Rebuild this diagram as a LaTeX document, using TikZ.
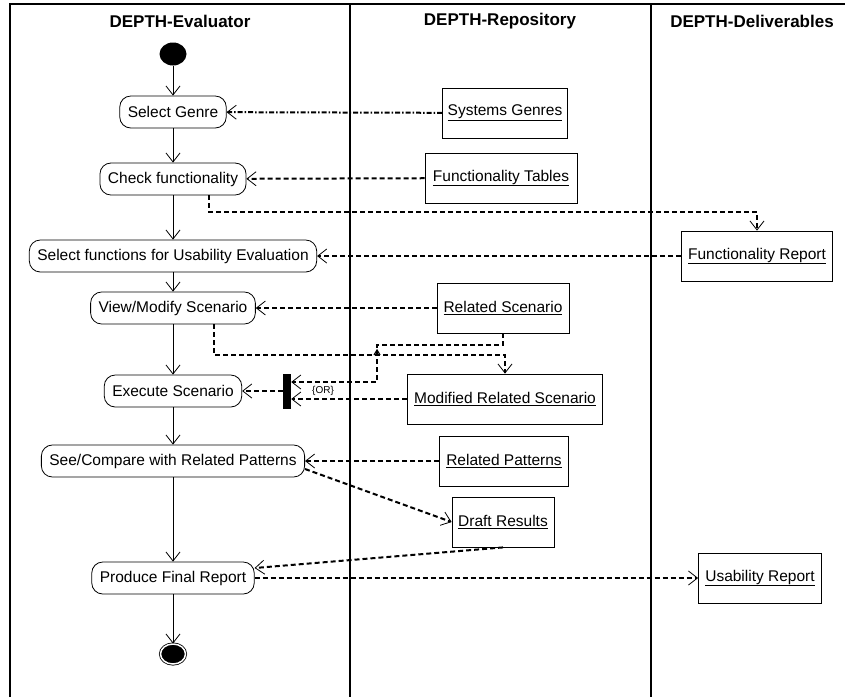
\documentclass[tikz,border=0pt]{standalone}
\usepackage{fontspec}
\setmainfont{Liberation Sans}
\usetikzlibrary{arrows.meta,shapes.geometric}

\begin{document}
\begin{tikzpicture}[x=1pt,y=-1pt]

	\tikzstyle{lane}=[line width=1.1pt]
	\tikzstyle{head}=[font=\fontsize{17}{20}\selectfont\bfseries]
	\tikzstyle{act}=[draw,rounded corners=11pt,minimum height=32pt,inner xsep=8pt,line width=0.8pt,font=\fontsize{15.5}{18}\selectfont]
	\tikzstyle{obj}=[draw,minimum height=50pt,line width=0.8pt,font=\fontsize{15.5}{18}\selectfont]
	\tikzstyle{flow}=[line width=0.8pt,-{Straight Barb[length=9pt,width=14pt,line width=0.8pt]}]
	\tikzstyle{dep}=[flow,line width=2pt,dash pattern=on 5pt off 3pt]

	\useasboundingbox (0,0) rectangle (845,697);

	\draw[lane] (10,697) -- (10,4) -- (845,4);
	\draw[lane] (350,4) -- (350,697);
	\draw[lane] (651,4) -- (651,697);

	\node[head] (hEval) at (180,21) {DEPTH-Evaluator};
	\node[head] (hRepo) at (500,21) {DEPTH-Repository};
	\node[head] (hDeli) at (752,21) {DEPTH-Deliverables};

	\node[ellipse,fill,minimum width=27pt,minimum height=23pt,inner sep=0pt] (start) at (173,54) {};
	\node[act] (genre) at (173,112) {Select Genre};
	\node[act] (check) at (173,179) {Check functionality};
	\node[act] (selfun) at (173,256) {Select functions for Usability Evaluation};
	\node[act] (view) at (173,308) {View/Modify Scenario};
	\node[act] (exec) at (173,391) {Execute Scenario};
	\node[act] (see) at (173,461) {See/Compare with Related Patterns};
	\node[act] (prod) at (173,578) {Produce Final Report};
	\node[ellipse,draw,fill,double=white,double distance=1.5pt,line width=0.8pt,minimum width=25pt,minimum height=20pt,inner sep=0pt] (stop) at (173,654) {};

	\node[obj,minimum width=125pt] (sysgen) at (505,113) {\underline{Systems Genres}};
	\node[obj,minimum width=152pt] (functab) at (501,178) {\underline{Functionality Tables}};
	\node[obj,minimum width=151pt] (funrep) at (757,256) {\underline{Functionality Report}};
	\node[obj,minimum width=132pt] (relscen) at (503,308) {\underline{Related Scenario}};
	\node[obj,minimum width=195pt] (modrel) at (505,399) {\underline{Modified Related Scenario}};
	\node[obj,minimum width=129pt] (relpat) at (504,461) {\underline{Related Patterns}};
	\node[obj,minimum width=102pt] (draft) at (503,522) {\underline{Draft Results}};
	\node[obj,minimum width=123pt] (usarep) at (760,578) {\underline{Usability Report}};

	\node[fill,minimum width=8pt,minimum height=35pt,inner sep=0pt] (bar) at (287,391) {};
	\node[font=\fontsize{10}{12}\selectfont] (orlab) at (323,391) {\{OR\}};

	\foreach \a/\b in {start/genre,genre/check,check/selfun,selfun/view,view/exec,exec/see,see/prod,prod/stop}
		\draw[flow] (\a) -- (\b);

	\draw[dep,dash pattern=on 5pt off 2pt on 1.5pt off 2pt] (sysgen) -- (genre);
	\draw[dep] (functab) -- (check);
	\draw[dep] ([xshift=36pt]check.south) -- ++(0,17) -| (funrep);
	\draw[dep] (funrep) -- (selfun);
	\draw[dep] (relscen) -- (view);
	\draw[dep] ([xshift=41pt]view.south) -- ++(0,31) -| (modrel);
	\draw[dep] (relscen.south) -- ++(0,12) -- ++(-126,0) |- ([yshift=9pt]bar.east);
	\draw[dep] (modrel.west) -- (modrel.west -| bar.east);
	\draw[dep] (bar) -- (exec);
	\draw[dep] (relpat) -- (see);
	\draw[dep] ([yshift=-8pt]see.east) -- (draft.west);
	\draw[dep] (draft.south) -- ([yshift=10pt]prod.east);
	\draw[dep] (prod) -- (usarep);
	% jump over the crossing
	\draw[line width=1.2pt] (374,355) -- (377,350) -- (380,355);
\end{tikzpicture}
\end{document}
